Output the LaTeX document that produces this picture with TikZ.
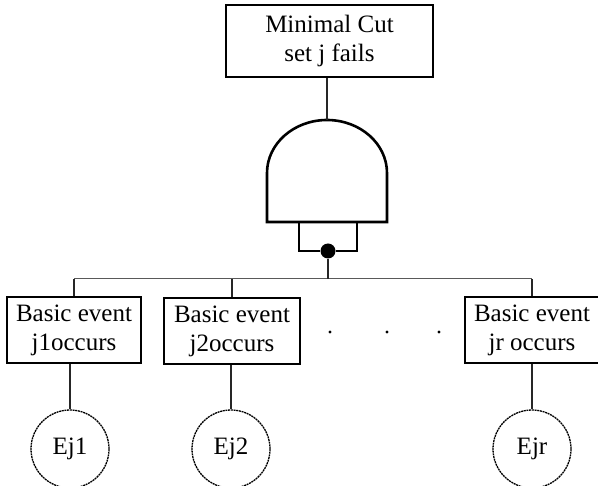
\documentclass[tikz,border=0pt]{standalone}
\usepackage{fontspec}
\setmainfont{Liberation Serif}
\begin{document}
\begin{tikzpicture}[x=1pt,y=-1pt,
  txt/.style={font=\fontsize{25}{29}\selectfont, align=center, inner sep=0pt},
  evbox/.style={txt, draw, line width=1.3pt, minimum height=66pt},
  basic/.style={txt, draw, circle, line width=1.3pt, dash pattern=on 2pt off 0.7pt, minimum size=78pt},
  link/.style={line width=1.4pt, black!85},
  gateline/.style={line width=2.6pt}]
\useasboundingbox (0,0) rectangle (598,486);

% top event
\node[evbox, minimum width=207pt, minimum height=72pt] (top) at (329.5,41) {Minimal Cut\\set j fails};

% and gate
\coordinate (gtop) at (327,120);
\draw[gateline] (267,222) -- (267,173)
  .. controls (267,143.7) and (293.9,120) .. (gtop)
  .. controls (360.1,120) and (387,143.7) .. (387,173) -- (387,222) -- cycle;
\node[circle, fill, inner sep=0pt, minimum size=15pt] (jn) at (328,251) {};
\draw[gateline] (299,222) |- (jn) -| (357,222);
\draw[link] (top.south -| gtop) -- (gtop);

% basic events
\node[evbox, minimum width=134pt] (b1) at (74,330) {Basic event\\j1occurs};
\node[evbox, minimum width=136pt] (b2) at (232,331) {Basic event\\j2occurs};
\node[evbox, minimum width=134pt] (br) at (532,330) {Basic event\\jr occurs};

\coordinate (bus) at (328,279);
\draw[line width=1pt, black!65] (b1.north |- bus) -- (br.north |- bus);
\draw[link] (jn) -- (jn |- bus);
\draw[link] (b1.north) -- (b1.north |- bus);
\draw[link] (b2.north) -- (b2.north |- bus);
\draw[link] (br.north) -- (br.north |- bus);

\foreach \x in {330,387,439}
  \fill (\x,332) circle (1.6);

\node[basic] (e1) at (70,449) {Ej1};
\node[basic] (e2) at (231,449) {Ej2};
\node[basic] (er) at (532,449) {Ejr};
\foreach \b/\e in {b1/e1,b2/e2,br/er}
  \draw[link] (\b.south -| \e) -- (\e.north);
\end{tikzpicture}
\end{document}
